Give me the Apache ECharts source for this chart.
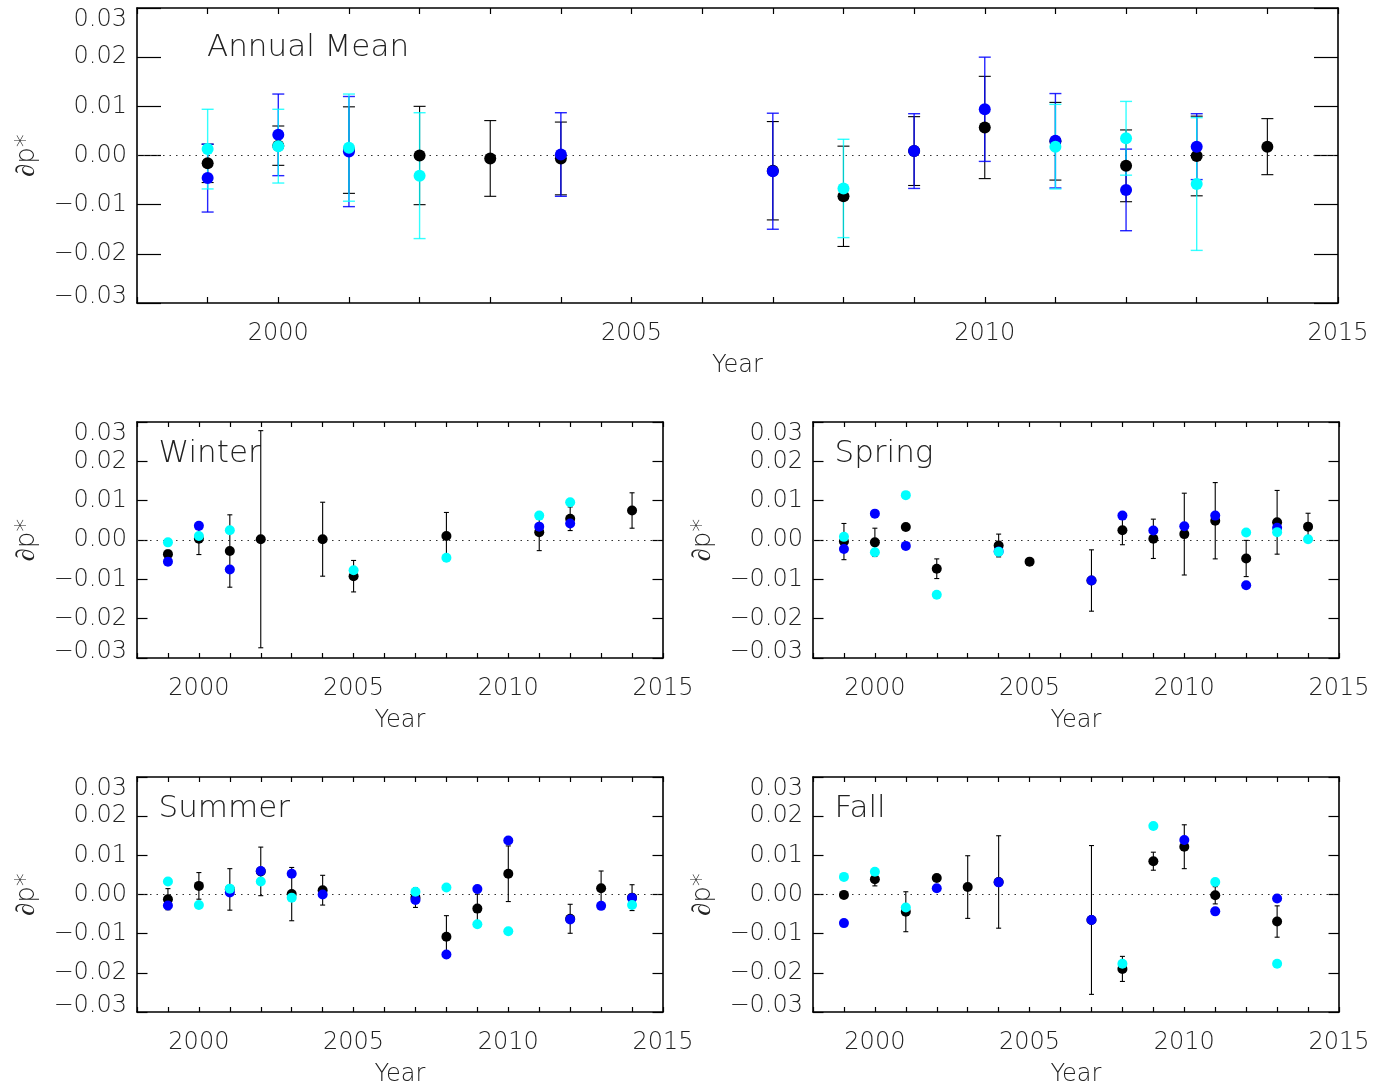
<!DOCTYPE html>
<html>
<head>
<meta charset="utf-8">
<script src="https://cdn.jsdelivr.net/npm/echarts@6/dist/echarts.min.js"></script>
<style>
html,body{margin:0;padding:0;background:#fff;}
#c{width:1388px;height:1088px;}
</style>
</head>
<body>
<div id="c"></div>
<script>
// ---------------- DATA ----------------
const panelTitles = ['Annual Mean', 'Winter', 'Spring', 'Summer', 'Fall'];
const xTickLabels = [2000, 2005, 2010, 2015];
const yTickValues = [-0.03, -0.02, -0.01, 0.00, 0.01, 0.02, 0.03];

// Annual Mean
const annualBlackYr  = [1999, 2000, 2001, 2002, 2003, 2004, 2007, 2008, 2009, 2010, 2011, 2012, 2013, 2014];
const annualBlackVal = [-0.0016, 0.0020, 0.0011, 0.0000, -0.0006, -0.0006, -0.0031, -0.0083, 0.0009, 0.0057, 0.0029, -0.0021, -0.0001, 0.0018];
const annualBlackErr = [0.0039, 0.0040, 0.0088, 0.0100, 0.0077, 0.0074, 0.0100, 0.0102, 0.0070, 0.0104, 0.0079, 0.0073, 0.0081, 0.0057];
const annualBlueYr   = [1999, 2000, 2001, 2004, 2007, 2009, 2010, 2011, 2012, 2013];
const annualBlueVal  = [-0.0046, 0.0042, 0.0008, 0.0002, -0.0032, 0.0009, 0.0094, 0.0030, -0.0070, 0.0018];
const annualBlueErr  = [0.0069, 0.0083, 0.0112, 0.0085, 0.0118, 0.0076, 0.0106, 0.0096, 0.0083, 0.0067];
const annualCyanYr   = [1999, 2000, 2001, 2002, 2008, 2011, 2012, 2013];
const annualCyanVal  = [0.0013, 0.0019, 0.0016, -0.0041, -0.0067, 0.0018, 0.0035, -0.0058];
const annualCyanErr  = [0.0081, 0.0075, 0.0109, 0.0128, 0.0100, 0.0086, 0.0075, 0.0135];

// Winter
const winterBlackYr  = [1999, 2000, 2001, 2002, 2004, 2005, 2008, 2011, 2012, 2014];
const winterBlackVal = [-0.0036, 0.0003, -0.0028, 0.0002, 0.0002, -0.0092, 0.0010, 0.0020, 0.0054, 0.0075];
const winterBlackErr = [0.0010, 0.0040, 0.0092, 0.0276, 0.0094, 0.0040, 0.0060, 0.0047, 0.0030, 0.0045];
const winterBlueYr   = [1999, 2000, 2001, 2011, 2012];
const winterBlueVal  = [-0.0055, 0.0036, -0.0075, 0.0034, 0.0042];
const winterCyanYr   = [1999, 2000, 2001, 2005, 2008, 2011, 2012];
const winterCyanVal  = [-0.0006, 0.0010, 0.0025, -0.0077, -0.0045, 0.0062, 0.0096];

// Spring
const springBlackYr  = [1999, 2000, 2001, 2002, 2004, 2005, 2007, 2008, 2009, 2010, 2011, 2012, 2013, 2014];
const springBlackVal = [-0.0004, -0.0006, 0.0033, -0.0073, -0.0014, -0.0055, -0.0103, 0.0025, 0.0003, 0.0015, 0.0049, -0.0047, 0.0045, 0.0034];
const springBlackErr = [0.0046, 0.0036, 0.0008, 0.0025, 0.0029, null, 0.0078, 0.0037, 0.0050, 0.0104, 0.0097, 0.0046, 0.0081, 0.0034];
const springBlueYr   = [1999, 2000, 2001, 2004, 2007, 2008, 2009, 2010, 2011, 2012, 2013];
const springBlueVal  = [-0.0023, 0.0067, -0.0015, -0.0029, -0.0103, 0.0062, 0.0024, 0.0035, 0.0062, -0.0115, 0.0031];
const springCyanYr   = [1999, 2000, 2001, 2002, 2004, 2012, 2013, 2014];
const springCyanVal  = [0.0008, -0.0031, 0.0114, -0.0139, -0.0030, 0.0019, 0.0020, 0.0002];

// Summer
const summerBlackYr  = [1999, 2000, 2001, 2002, 2003, 2004, 2007, 2008, 2009, 2010, 2012, 2013, 2014];
const summerBlackVal = [-0.0012, 0.0022, 0.0013, 0.0059, 0.0001, 0.0011, -0.0008, -0.0108, -0.0036, 0.0053, -0.0062, 0.0016, -0.0008];
const summerBlackErr = [0.0027, 0.0034, 0.0053, 0.0062, 0.0068, 0.0038, 0.0025, 0.0054, 0.0037, 0.0071, 0.0037, 0.0044, 0.0033];
const summerBlueYr   = [1999, 2001, 2002, 2003, 2004, 2007, 2008, 2009, 2010, 2012, 2013, 2014];
const summerBlueVal  = [-0.0028, 0.0005, 0.0060, 0.0053, 0.0000, -0.0014, -0.0153, 0.0014, 0.0138, -0.0064, -0.0029, -0.0009];
const summerCyanYr   = [1999, 2000, 2001, 2002, 2003, 2007, 2008, 2009, 2010, 2014];
const summerCyanVal  = [0.0033, -0.0027, 0.0015, 0.0033, -0.0008, 0.0007, 0.0018, -0.0076, -0.0094, -0.0027];

// Fall
const fallBlackYr  = [1999, 2000, 2001, 2002, 2003, 2004, 2007, 2008, 2009, 2010, 2011, 2013];
const fallBlackVal = [-0.0001, 0.0039, -0.0044, 0.0042, 0.0019, 0.0032, -0.0065, -0.0190, 0.0085, 0.0122, -0.0002, -0.0069];
const fallBlackErr = [null, 0.0017, 0.0051, null, 0.0080, 0.0118, 0.0190, 0.0032, 0.0023, 0.0056, 0.0022, 0.0040];
const fallBlueYr   = [1999, 2002, 2004, 2007, 2010, 2011, 2013];
const fallBlueVal  = [-0.0073, 0.0016, 0.0031, -0.0065, 0.0139, -0.0043, -0.0010];
const fallCyanYr   = [1999, 2000, 2001, 2008, 2009, 2011, 2013];
const fallCyanVal  = [0.0045, 0.0058, -0.0033, -0.0177, 0.0175, 0.0032, -0.0177];

// ---------------- STYLE / LAYOUT ----------------
const FONT = 'DejaVu Sans';
const FW = 200;
const TXT = '#222';
const BLACK = '#000000', BLUE = '#0000ff', CYAN = '#00ffff';

const panels = [
  {title: panelTitles[0], left: 137, top: 8,   width: 1201, height: 295, big: true,
   black: [annualBlackYr, annualBlackVal, annualBlackErr],
   blue:  [annualBlueYr, annualBlueVal, annualBlueErr],
   cyan:  [annualCyanYr, annualCyanVal, annualCyanErr], titleDx: 70},
  {title: panelTitles[1], left: 137, top: 422, width: 526, height: 236,
   black: [winterBlackYr, winterBlackVal, winterBlackErr],
   blue:  [winterBlueYr, winterBlueVal, null],
   cyan:  [winterCyanYr, winterCyanVal, null], titleDx: 21.5},
  {title: panelTitles[2], left: 813, top: 422, width: 526, height: 236,
   black: [springBlackYr, springBlackVal, springBlackErr],
   blue:  [springBlueYr, springBlueVal, null],
   cyan:  [springCyanYr, springCyanVal, null], titleDx: 21.5},
  {title: panelTitles[3], left: 137, top: 777, width: 526, height: 236,
   black: [summerBlackYr, summerBlackVal, summerBlackErr],
   blue:  [summerBlueYr, summerBlueVal, null],
   cyan:  [summerCyanYr, summerCyanVal, null], titleDx: 21.5},
  {title: panelTitles[4], left: 813, top: 777, width: 526, height: 236,
   black: [fallBlackYr, fallBlackVal, fallBlackErr],
   blue:  [fallBlueYr, fallBlueVal, null],
   cyan:  [fallCyanYr, fallCyanVal, null], titleDx: 21.5}
];

function fmtY(v) {
  if (Math.abs(v) < 1e-9) return '0.00';
  return (v < 0 ? '\u2212' : '') + Math.abs(v).toFixed(2);
}
function fmtX(v) {
  const r = Math.round(v);
  return xTickLabels.indexOf(r) >= 0 ? String(r) : '';
}

function errRender(capW, color, lw, op) {
  return function (params, api) {
    const x = api.value(0), v = api.value(1), e = api.value(2);
    if (e == null || isNaN(e)) return null;
    const t = api.coord([x, v + e]);
    const b = api.coord([x, v - e]);
    const st = {stroke: color, lineWidth: lw, opacity: op};
    return {
      type: 'group',
      children: [
        {type: 'line', shape: {x1: t[0], y1: t[1], x2: b[0], y2: b[1]}, style: st},
        {type: 'line', shape: {x1: t[0] - capW / 2, y1: t[1], x2: t[0] + capW / 2, y2: t[1]}, style: st},
        {type: 'line', shape: {x1: b[0] - capW / 2, y1: b[1], x2: b[0] + capW / 2, y2: b[1]}, style: st}
      ]
    };
  };
}

const grid = [], xAxis = [], yAxis = [], series = [], graphic = [];
const textBase = {fontFamily: FONT, fontWeight: FW, color: TXT};

panels.forEach((p, i) => {
  grid.push({left: p.left, top: p.top, width: p.width, height: p.height, containLabel: false});
  const yTick = p.big ? 24 : 10.5;
  const xTick = p.big ? 6 : 5;
  const axLine = {show: true, onZero: false, lineStyle: {color: '#000', width: 1.6}};
  const tickStyle = {color: '#000', width: 1.2};
  xAxis.push({
    gridIndex: i, type: 'value', min: 1998, max: 2015, interval: 1,
    axisLine: axLine, splitLine: {show: false},
    axisTick: {show: true, inside: true, length: xTick, lineStyle: tickStyle},
    axisLabel: Object.assign({show: true, formatter: fmtX, margin: 19, fontSize: 24, showMinLabel: true, showMaxLabel: true}, textBase),
    name: 'Year', nameLocation: 'middle', nameGap: 51,
    nameTextStyle: Object.assign({fontSize: 24}, textBase)
  });
  xAxis.push({
    gridIndex: i, type: 'value', position: 'top', min: 1998, max: 2015, interval: 1,
    axisLine: axLine, splitLine: {show: false},
    axisTick: {show: true, inside: true, length: xTick, lineStyle: tickStyle},
    axisLabel: {show: false}
  });
  yAxis.push({
    gridIndex: i, type: 'value', min: -0.03, max: 0.03, interval: 0.01,
    axisLine: axLine, splitLine: {show: false},
    axisTick: {show: true, inside: true, length: yTick, lineStyle: tickStyle},
    axisLabel: Object.assign({show: true, formatter: fmtY, margin: 10, fontSize: 24, lineHeight: 12,
      padding: [6, 0, 0, 0],
      showMinLabel: true, showMaxLabel: true,
      verticalAlignMinLabel: 'bottom', verticalAlignMaxLabel: 'top'}, textBase),
    name: '\u2202p*', nameLocation: 'middle', nameRotate: 90, nameGap: 97,
    nameTextStyle: Object.assign({fontSize: 26}, textBase)
  });
  yAxis.push({
    gridIndex: i, type: 'value', position: 'right', min: -0.03, max: 0.03, interval: 0.01,
    axisLine: axLine, splitLine: {show: false},
    axisTick: {show: true, inside: true, length: yTick, lineStyle: tickStyle},
    axisLabel: {show: false}
  });
  const xi = i * 2, yi = i * 2;
  const capW = p.big ? 12 : 5;
  const sym = p.big ? 12 : 10;

  const mkErr = (src, color, lw, z, op) => {
    if (!src[2]) return;
    const data = [];
    src[0].forEach((yr, k) => { if (src[2][k] != null) data.push([yr, src[1][k], src[2][k]]); });
    series.push({
      type: 'custom', xAxisIndex: xi, yAxisIndex: yi, z: z, silent: true,
      renderItem: errRender(capW, color, lw, op), encode: {x: 0, y: 1},
      data: data
    });
  };
  mkErr(p.black, BLACK, 1.1, 2, 1);
  mkErr(p.blue, BLUE, 1.4, 3, 0.85);
  mkErr(p.cyan, CYAN, 1.4, 4, 0.8);

  const mkPts = (src, color, z, withZero) => {
    const s = {
      type: 'scatter', xAxisIndex: xi, yAxisIndex: yi, z: z, silent: true,
      symbol: 'circle', symbolSize: sym, itemStyle: {color: color, opacity: 1},
      data: src[0].map((yr, k) => [yr, src[1][k]])
    };
    if (withZero) {
      s.markLine = {
        silent: true, symbol: 'none', label: {show: false},
        lineStyle: {color: '#333', type: [1.5, 5], width: 1.2, opacity: 1},
        data: [{yAxis: 0}], z: 1
      };
    }
    series.push(s);
  };
  mkPts(p.black, BLACK, 5, true);
  mkPts(p.blue, BLUE, 6, false);
  mkPts(p.cyan, CYAN, 7, false);

  graphic.push({
    type: 'text', left: p.left + p.titleDx, top: p.top + (p.big ? 24 : 16),
    style: {text: p.title, fontSize: 31, fontFamily: FONT, fontWeight: FW, fill: TXT}
  });
});

const chart = echarts.init(document.getElementById('c'), null, {renderer: 'canvas'});
chart.setOption({
  animation: false,
  backgroundColor: '#fff',
  grid: grid, xAxis: xAxis, yAxis: yAxis, series: series, graphic: graphic
});
</script>
</body>
</html>
